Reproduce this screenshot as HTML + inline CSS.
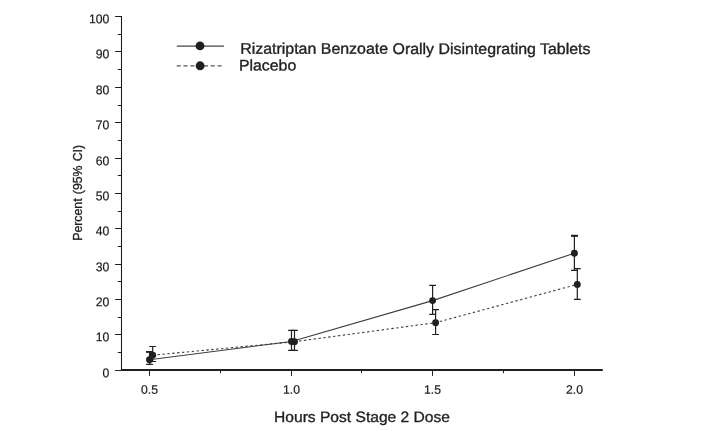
<!DOCTYPE html><html><head><meta charset="utf-8"><title>Chart</title><style>html,body{margin:0;padding:0;background:#fff}svg{display:block}text{font-family:"Liberation Sans",Arial,sans-serif;fill:#231f20;stroke:#231f20;stroke-width:0.35px}.sm text{stroke-width:0.2px;fill:#1a1a1a;stroke:#1a1a1a}</style></head><body>
<svg width="720" height="431" viewBox="0 0 720 431">
<rect width="720" height="431" fill="#fff"/>
<g stroke="#1a1a1a" stroke-width="1.05" fill="none">
<path d="M121.5 16V370.0"/>
<path d="M115.1 16.5H121.5"/>
<path d="M117.8 34.5H121.5"/>
<path d="M115.1 51.5H121.5"/>
<path d="M117.8 69.5H121.5"/>
<path d="M115.1 87.5H121.5"/>
<path d="M117.8 105.5H121.5"/>
<path d="M115.1 122.5H121.5"/>
<path d="M117.8 140.5H121.5"/>
<path d="M115.1 158.5H121.5"/>
<path d="M117.8 175.5H121.5"/>
<path d="M115.1 193.5H121.5"/>
<path d="M117.8 211.5H121.5"/>
<path d="M115.1 228.5H121.5"/>
<path d="M117.8 246.5H121.5"/>
<path d="M115.1 264.5H121.5"/>
<path d="M117.8 281.5H121.5"/>
<path d="M115.1 299.5H121.5"/>
<path d="M117.8 317.5H121.5"/>
<path d="M115.1 334.5H121.5"/>
<path d="M117.8 352.5H121.5"/>
</g>
<g stroke="#231f20" fill="none">
<path d="M120.9 370.0H602.8" stroke-width="1.9"/>
<path d="M115.1 370.5H121.5" stroke-width="1.05"/>
<path d="M149.5 370.0V375.9" stroke-width="1.05"/>
<path d="M220.5 370.0V373.2" stroke-width="1.05"/>
<path d="M291.5 370.0V375.9" stroke-width="1.05"/>
<path d="M361.5 370.0V373.2" stroke-width="1.05"/>
<path d="M432.5 370.0V375.9" stroke-width="1.05"/>
<path d="M503.5 370.0V373.2" stroke-width="1.05"/>
<path d="M574.5 370.0V375.9" stroke-width="1.05"/>
</g>
<g font-size="13" text-anchor="end" class="sm">
<text transform="translate(109.4 377.20) rotate(0.03) scale(0.94 0.97)">0</text>
<text transform="translate(109.4 341.20) rotate(0.03) scale(0.94 0.97)">10</text>
<text transform="translate(109.4 306.20) rotate(0.03) scale(0.94 0.97)">20</text>
<text transform="translate(109.4 271.20) rotate(0.03) scale(0.94 0.97)">30</text>
<text transform="translate(109.4 235.20) rotate(0.03) scale(0.94 0.97)">40</text>
<text transform="translate(109.4 200.20) rotate(0.03) scale(0.94 0.97)">50</text>
<text transform="translate(109.4 165.20) rotate(0.03) scale(0.94 0.97)">60</text>
<text transform="translate(109.4 129.20) rotate(0.03) scale(0.94 0.97)">70</text>
<text transform="translate(109.4 94.20) rotate(0.03) scale(0.94 0.97)">80</text>
<text transform="translate(109.4 58.20) rotate(0.03) scale(0.94 0.97)">90</text>
<text transform="translate(109.4 23.20) rotate(0.03) scale(0.94 0.97)">100</text>
</g>
<g font-size="13" text-anchor="middle" class="sm">
<text transform="translate(149.5 393.8) rotate(0.03) scale(0.94 0.95)">0.5</text>
<text transform="translate(291.5 393.8) rotate(0.03) scale(0.94 0.95)">1.0</text>
<text transform="translate(432.5 393.8) rotate(0.03) scale(0.94 0.95)">1.5</text>
<text transform="translate(574.5 393.8) rotate(0.03) scale(0.94 0.95)">2.0</text>
</g>
<text transform="translate(362 422) rotate(0.03) scale(1.04 1)" font-size="15" text-anchor="middle">Hours Post Stage 2 Dose</text>
<text transform="translate(82.2 240.8) rotate(-90)" font-size="12.3" word-spacing="0.8">Percent (95% CI)</text>
<path d="M176.8 46.2H223.9" stroke="#444" stroke-width="1.2"/>
<path d="M176.7 65.8H222" stroke="#555" stroke-width="1.3" stroke-dasharray="4.1 2.7"/>
<circle cx="200" cy="45.9" r="4.45" fill="#231f20"/>
<circle cx="200.1" cy="65.8" r="4.45" fill="#231f20"/>
<text transform="translate(240.2 53.8) rotate(0.03)" font-size="15.4" textLength="350.3" style="fill:#1e1e24;stroke:#1e1e24" lengthAdjust="spacingAndGlyphs">Rizatriptan Benzoate Orally Disintegrating Tablets</text>
<text transform="translate(238.9 70.4) rotate(0.03)" font-size="15.4" style="fill:#1e1e24;stroke:#1e1e24" textLength="57.3" lengthAdjust="spacingAndGlyphs">Placebo</text>
<g stroke="#231f20" stroke-width="1.2" fill="none">
<path d="M149.5 359.7 L291.5 341.5 L432.6 300.6 L574.4 253.2" stroke="#3d3d3d" stroke-width="1.1"/>
<path d="M152.7 355.2 L294.5 341.7 L435.6 322.7 L577.3 284.4" stroke="#3d3d3d" stroke-width="1.1" stroke-dasharray="2.4 2.5"/>
<path d="M149.5 351.9V364.4M146.1 351.9H152.9M146.1 364.4H152.9"/>
<path d="M291.5 330.4V350.3M288.1 330.4H294.9M288.1 350.3H294.9"/>
<path d="M432.6 285.4V314.3M429.20000000000005 285.4H436.0M429.20000000000005 314.3H436.0"/>
<path d="M574.4 235.8V270.3M571.0 235.8H577.8M571.0 270.3H577.8"/>
<path d="M152.7 346.5V361.5M149.29999999999998 346.5H156.1M149.29999999999998 361.5H156.1"/>
<path d="M294.5 330.4V350.3M291.1 330.4H297.9M291.1 350.3H297.9"/>
<path d="M435.6 309.6V334.5M432.20000000000005 309.6H439.0M432.20000000000005 334.5H439.0"/>
<path d="M577.3 268.6V299.4M573.9 268.6H580.6999999999999M573.9 299.4H580.6999999999999"/>
<path d="M571 235.8H577.9M146 351.9H152.9" stroke-width="1.9"/>
</g>
<g fill="#231f20">
<circle cx="149.5" cy="359.7" r="3.45"/>
<circle cx="291.5" cy="341.5" r="3.45"/>
<circle cx="432.6" cy="300.6" r="3.45"/>
<circle cx="574.4" cy="253.2" r="3.45"/>
<circle cx="152.7" cy="355.2" r="3.45"/>
<circle cx="294.5" cy="341.7" r="3.45"/>
<circle cx="435.6" cy="322.7" r="3.45"/>
<circle cx="577.3" cy="284.4" r="3.45"/>
</g>
</svg></body></html>
